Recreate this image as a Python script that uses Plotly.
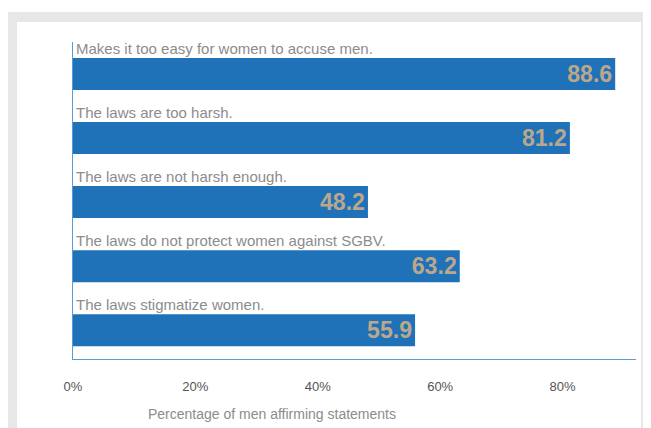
import plotly.graph_objects as go

# statements and share of men agreeing (%)
statements = [
    "Makes it too easy for women to accuse men.",
    "The laws are too harsh.",
    "The laws are not harsh enough.",
    "The laws do not protect women against SGBV.",
    "The laws stigmatize women.",
]
values = [88.6, 81.2, 48.2, 63.2, 55.9]
tick_vals = [0, 20, 40, 60, 80]
tick_text = ["0%", "20%", "40%", "60%", "80%"]

# the page body adds an 8px margin, so draw in page coords minus 8
OFF = 8
W, H = 651 - OFF, 428 - OFF
L, R, T, B = 73 - OFF, 15, 42 - OFF, 69
pw, ph = W - L - R, H - T - B

def px(x):
    return (x - OFF - L) / pw

def py(y):
    return (H - B - (y - OFF)) / ph

bar_blue = "#1f72b8"
axis_blue = "#5b9bd5"
narrow = "Liberation Sans Narrow, Arial Narrow, Liberation Sans, sans-serif"

pos = list(range(len(statements)))

fig = go.Figure(go.Bar(
    x=values, y=pos, orientation="h",
    marker=dict(color=bar_blue, line=dict(width=0)),
    width=0.5,
    text=[f"{v:.1f}" for v in values],
    textposition="inside", insidetextanchor="end",
    textfont=dict(family=narrow, size=24, color="#bba78c", weight="bold"),
    hoverinfo="skip",
))

# category labels sit above each bar
for i, s in enumerate(statements):
    fig.add_annotation(x=0, y=i - 0.25, xref="x", yref="y", text=s,
                       showarrow=False, xanchor="left", yanchor="bottom",
                       xshift=1, yshift=-1,
                       font=dict(family=narrow, size=15, color="#8c8c8c"))

fig.add_annotation(x=px(272), y=py(414), xref="paper", yref="paper",
                   text="Percentage of men affirming statements", showarrow=False,
                   xanchor="center", yanchor="middle",
                   font=dict(family=narrow, size=14, color="#8c8c8c"))

# gray frame and white panel
fig.add_shape(type="rect", xref="paper", yref="paper", layer="below",
              x0=px(0), x1=px(651), y0=py(430), y1=py(12),
              fillcolor="#e6e7e8", line=dict(width=0))
fig.add_shape(type="rect", xref="paper", yref="paper", layer="below",
              x0=px(17), x1=px(641), y0=py(430), y1=py(22),
              fillcolor="white", line=dict(width=0))

fig.update_xaxes(range=[0, 92], tickvals=tick_vals, ticktext=tick_text,
                 showgrid=False, zeroline=False, showline=True,
                 linecolor=axis_blue, linewidth=1, ticks="", ticklabelstandoff=15,
                 tickfont=dict(family="Liberation Sans, Arial, sans-serif", size=13, color="#555555"))
fig.update_yaxes(range=[4.45, -0.5], showticklabels=False, showgrid=False,
                 zeroline=False, showline=True, linecolor=axis_blue, linewidth=1)

fig.update_layout(
    width=W, height=H,
    margin=dict(l=L, r=R, t=T, b=B),
    paper_bgcolor="white", plot_bgcolor="rgba(0,0,0,0)",
    showlegend=False,
)

fig.write_html("out.html")
